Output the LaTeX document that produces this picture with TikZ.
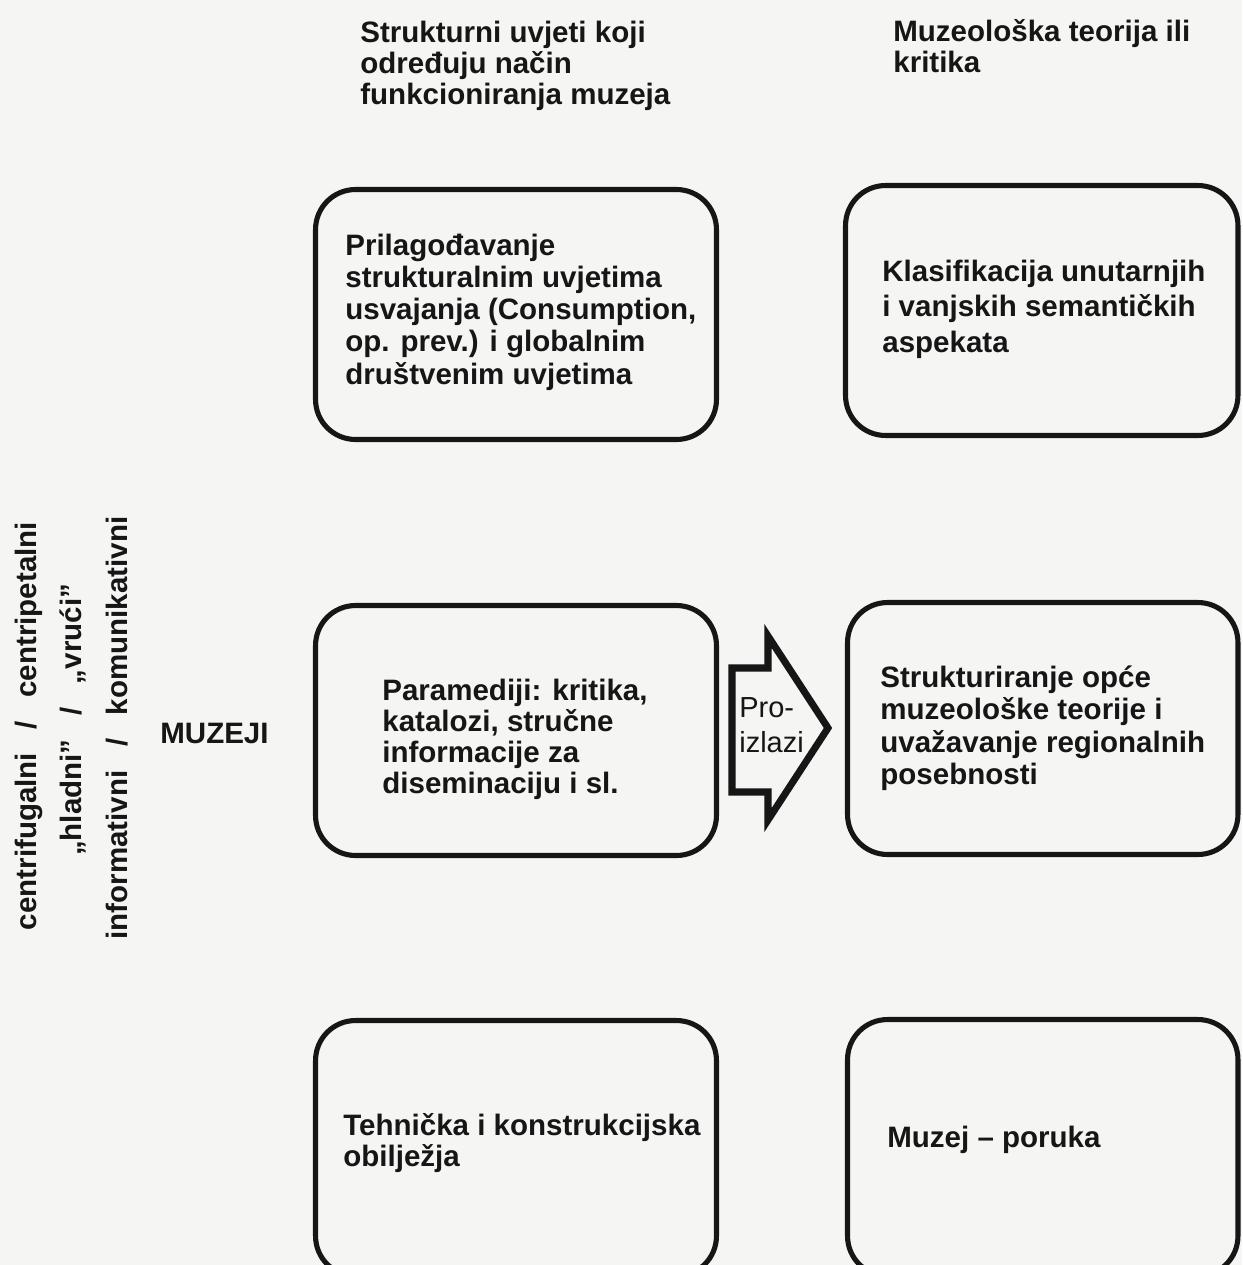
\documentclass[tikz,border=0pt]{standalone}
\usepackage{fontspec}
\setmainfont{Liberation Sans}
\definecolor{ink}{RGB}{22,22,22}
\definecolor{paper}{RGB}{245,245,243}
\newcommand{\mlines}[1]{\begin{tabular}[t]{@{}l@{}}#1\end{tabular}}
\begin{document}
\begin{tikzpicture}[x=0.02cm,y=-0.02cm,
  box/.style={draw=ink, line width=2.9pt, rounded corners=0.8cm, rectangle, inner sep=0pt},
  txt/.style={text=ink, font=\bfseries\fontsize{16.8}{#1}\selectfont, inner sep=0pt, anchor=base west},
  side/.style={text=ink, font=\bfseries\fontsize{16.8}{18}\selectfont, inner sep=0pt, rotate=90, anchor=base},
  bigarrow/.style={draw=ink, line width=4pt, line join=miter, fill=paper}
]
\useasboundingbox (0,0) rectangle (1242,1265);
\fill[paper] (0,0) rectangle (1242,1265);
\clip (0,0) rectangle (1242,1265);

% headers
\node[txt=17.6pt] (h1) at (360,42) {\mlines{Strukturni uvjeti koji\\određuju način\\funkcioniranja muzeja}};
\node[txt=18.1pt] (h2) at (893,41) {\mlines{Muzeološka teorija ili\\kritika}};

% boxes
\node[box, minimum width=8.02cm, minimum height=5cm] (tlbox) at (516,314.5) {};
\node[box, minimum width=7.85cm, minimum height=5cm] (trbox) at (1041.75,310.5) {};
\node[box, minimum width=8.02cm, minimum height=5cm] (mlbox) at (516,730.5) {};
\node[box, minimum width=7.81cm, minimum height=5.04cm] (mrbox) at (1042.75,728.5) {};
\node[box, minimum width=8.02cm, minimum height=5.11cm] (blbox) at (516,1148.25) {};
\node[box, minimum width=7.81cm, minimum height=5.13cm] (brbox) at (1042.75,1147.75) {};

% box texts
\node[txt=18.4pt] (t1) at (345,255) {\mlines{Prilagođavanje\\strukturalnim uvjetima\\usvajanja (Consumption,\\op. prev.) i globalnim\\društvenim uvjetima}};
\node[txt=20.4pt] (t2) at (882,281) {\mlines{Klasifikacija unutarnjih\\i vanjskih semantičkih\\aspekata}};
\node[txt=17.7pt] (t3) at (382,700) {\mlines{Paramediji: kritika,\\katalozi, stručne\\informacije za\\diseminaciju i sl.}};
\node[txt=18.5pt] (t4) at (880,687) {\mlines{Strukturiranje opće\\muzeološke teorije i\\uvažavanje regionalnih\\posebnosti}};
\node[txt=17pt] (t5) at (343,1135) {\mlines{Tehnička i konstrukcijska\\obilježja}};
\node[txt=18pt] (t6) at (887,1147) {Muzej – poruka};

% left labels
\node[txt=18pt] (muz) at (160,743) {MUZEJI};
\node[side] (s1) at (36,726) {centrifugalni\hspace{0.8em}/\hspace{0.8em}centripetalni};
\node[side] (s2) at (81,720) {„hladni”\hspace{0.8em}/\hspace{0.8em}„vrući”};
\node[side] (s3) at (127,728) {informativni\hspace{0.8em}/\hspace{0.8em}komunikativni};

% block arrow
\draw[bigarrow] (732,668) -- (768,668) -- (768,636) -- (828,728) -- (768,820) -- (768,792) -- (732,792) -- cycle;
\node[text=ink, font=\fontsize{16.5}{20.4}\selectfont, inner sep=0pt, anchor=base west] (pro) at (739,717) {\mlines{Pro-\\izlazi}};
\end{tikzpicture}
\end{document}
